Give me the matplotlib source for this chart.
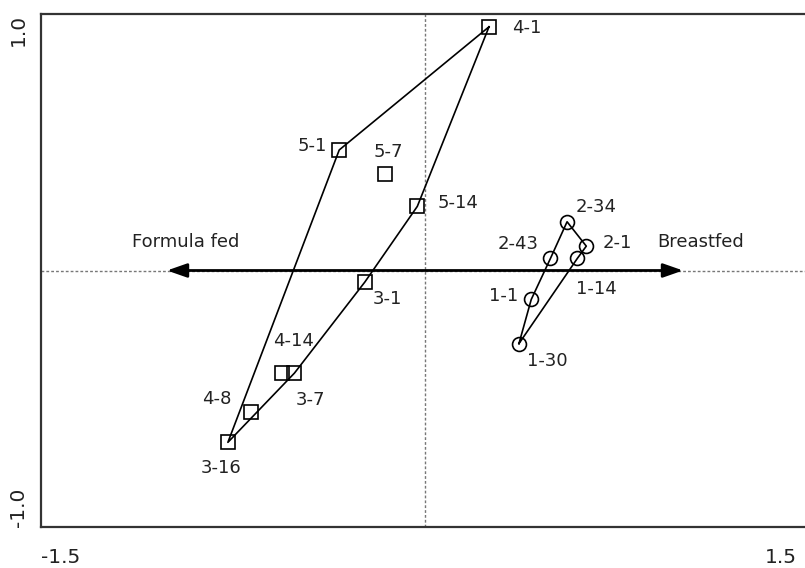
import matplotlib
matplotlib.use("Agg")
import matplotlib.pyplot as plt
import matplotlib.transforms as mtransforms

plt.rcParams['font.family'] = ['DejaVu Sans']

# ---- data ----
sq_labels = ['4-1', '5-1', '5-7', '5-14', '3-1', '4-14', '3-7', '4-8', '3-16']
sq_x = [0.25, -0.335, -0.155, -0.03, -0.235, -0.56, -0.51, -0.68, -0.77]
sq_y = [0.95, 0.47, 0.375, 0.25, -0.045, -0.40, -0.40, -0.55, -0.67]
sq_path = ['4-1', '5-1', '3-16', '3-7', '3-1', '5-14', '4-1']

ci_labels = ['2-34', '2-1', '2-43', '1-14', '1-1', '1-30']
ci_x = [0.555, 0.63, 0.49, 0.595, 0.415, 0.367]
ci_y = [0.19, 0.095, 0.047, 0.047, -0.113, -0.285]
ci_path = ['1-30', '1-1', '2-43', '2-34', '2-1', '1-14', '1-30']

x_ticks = [-1.5, 1.5]
x_ticklabels = ['-1.5', '1.5']
y_ticks = [-1.0, 1.0]
y_ticklabels = ['-1.0', '1.0']
arrow_extent = 1.008
left_text = 'Formula fed'
right_text = 'Breastfed'

# label offsets (pixels, from point centre)
offsets = {
    '4-1': (38, -1), '5-1': (-27, 4), '5-7': (3, 22), '5-14': (41, 3),
    '3-1': (23, -17), '4-14': (12, 32), '3-7': (16, -27), '4-8': (-34, 13),
    '3-16': (-7, -26), '2-34': (29, 15), '2-1': (31, 3), '2-43': (-32, 14),
    '1-14': (19, -31), '1-1': (-28, 3), '1-30': (28, -17),
}

W, H = 805, 568
fig = plt.figure(figsize=(W / 100, H / 100), dpi=100)
ax = fig.add_axes([41 / W, (H - 527) / H, 768 / W, 513 / H])
ax.set_xlim(-1.5, 1.5)
ax.set_ylim(-1.0, 1.0)

# reference lines
ax.axvline(0, color='#777777', lw=1.0, ls=(0, (2, 1.5)), zorder=1)
ax.axhline(0, color='#777777', lw=1.0, ls=(0, (2, 1.5)), zorder=1)

# arrow
ax.annotate('', xy=(arrow_extent, 0), xytext=(-arrow_extent, 0),
            arrowprops=dict(arrowstyle='<|-|>,head_length=0.8,head_width=0.28',
                            mutation_scale=15, lw=2.0, color='black',
                            shrinkA=0, shrinkB=0), zorder=3)
ax.text(-0.935, 0.111, left_text, fontsize=13, ha='center', va='center', color='#222222')
ax.text(1.076, 0.113, right_text, fontsize=13, ha='center', va='center', color='#222222')

sq = dict(zip(sq_labels, zip(sq_x, sq_y)))
ci = dict(zip(ci_labels, zip(ci_x, ci_y)))

ax.plot([sq[k][0] for k in sq_path], [sq[k][1] for k in sq_path],
        color='black', lw=1.2, zorder=4)
ax.plot([ci[k][0] for k in ci_path], [ci[k][1] for k in ci_path],
        color='black', lw=1.2, zorder=4)

ax.plot(sq_x, sq_y, ls='none', marker='s', markersize=10, mfc='none',
        mec='black', mew=1.2, zorder=5)
ax.plot(ci_x, ci_y, ls='none', marker='o', markersize=10, mfc='none',
        mec='black', mew=1.2, zorder=5)

for lab, (x, y) in list(sq.items()) + list(ci.items()):
    dx, dy = offsets[lab]
    ax.annotate(lab, (x, y), xytext=(dx, dy), textcoords='offset pixels',
                ha='center', va='center', fontsize=13, color='#222222')

# axes styling
for s in ['top', 'left', 'bottom']:
    ax.spines[s].set_linewidth(1.6)
    ax.spines[s].set_color('#333333')
ax.spines['right'].set_visible(False)

ax.set_xticks(x_ticks, x_ticklabels)
ax.set_yticks(y_ticks, y_ticklabels)
ax.tick_params(axis='x', length=0, pad=15, labelsize=14.5, labelcolor='#222222')
ax.tick_params(axis='y', length=0, pad=9.5, labelsize=14.5, labelcolor='#222222')
xl = ax.get_xticklabels()
xl[0].set_ha('left')
xl[1].set_ha('right')
xl[1].set_transform(xl[1].get_transform() +
                    mtransforms.ScaledTranslation(-12 / 100, 0, fig.dpi_scale_trans))
yl = ax.get_yticklabels()
for t in yl:
    t.set_rotation(90)
yl[0].set_va('bottom')
yl[1].set_va('top')

fig.savefig('out.png', dpi=100)
